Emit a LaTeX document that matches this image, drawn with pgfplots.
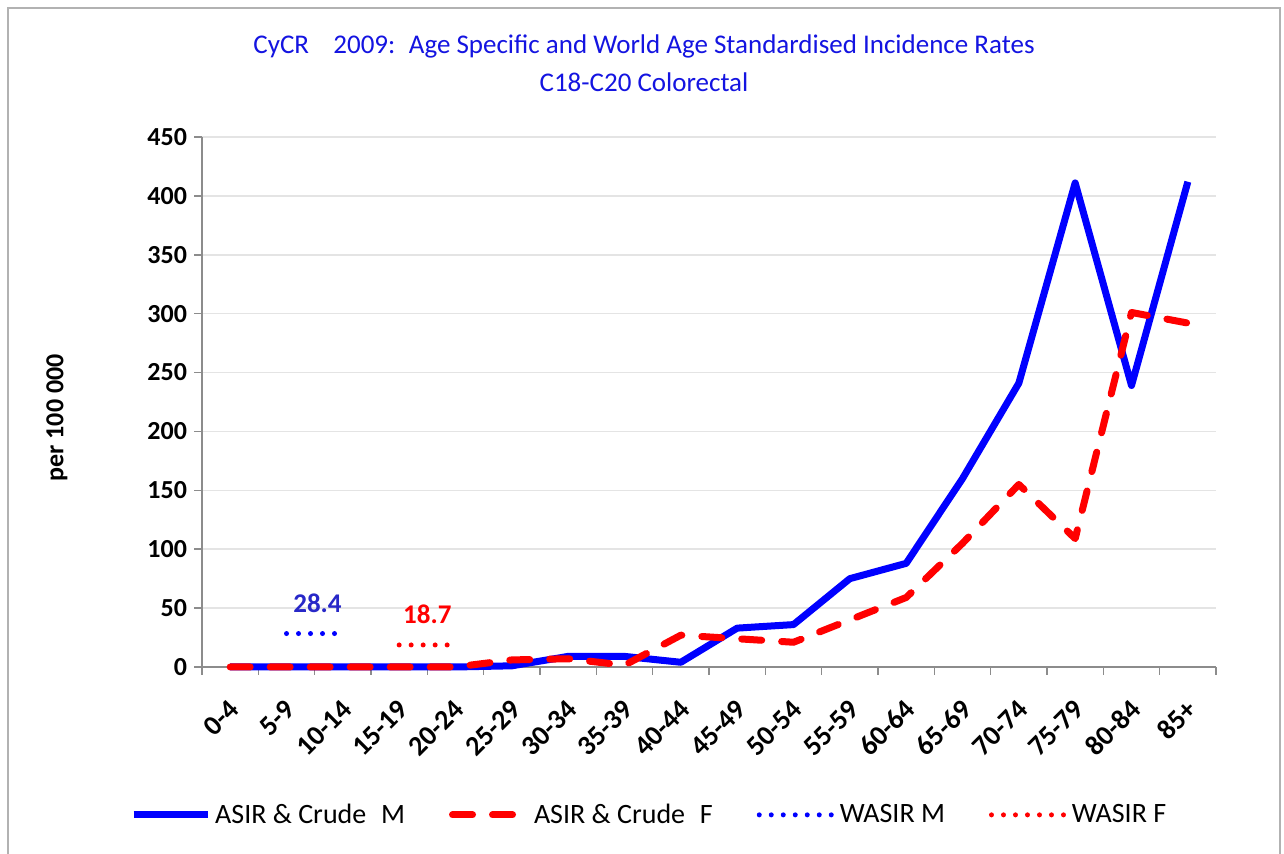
\documentclass[border=0pt]{standalone}
\usepackage{fontspec}
\setmainfont{Carlito}
\usepackage{pgfplots}
\pgfplotsset{compat=1.18}
\definecolor{mblue}{RGB}{0,0,255}
\definecolor{mred}{RGB}{255,0,0}
\definecolor{gridgray}{RGB}{228,228,228}
\definecolor{axgray}{RGB}{140,140,140}
\definecolor{titleblue}{RGB}{20,20,225}
\definecolor{lblblue}{RGB}{40,40,200}
\begin{document}
\begin{tikzpicture}
\useasboundingbox (0,0) rectangle (642pt,427pt);
\fill[white] (0,0) rectangle (642pt,427pt);
\draw[gray!60, line width=1pt] (4pt,-2pt) -- (4pt,423pt) -- (640pt,423pt) -- (640pt,-2pt);
\node[font=\fontsize{13.5}{15}\selectfont, text=titleblue] at (322pt,404pt) {CyCR\hspace{0.9em}2009:\hspace{0.5em}Age Specific and World Age Standardised Incidence Rates};
\node[font=\fontsize{13.5}{15}\selectfont, text=titleblue] at (322pt,386pt) {C18-C20 Colorectal};
\begin{axis}[
  at={(101pt,93.5pt)}, anchor=south west,
  scale only axis, width=507pt, height=265pt,
  xmin=-0.5, xmax=17.5, ymin=0, ymax=450,
  axis x line*=bottom, axis y line*=left,
  axis line style={axgray, line width=0.8pt, -},
  xtick={0,...,17},
  xticklabels={0-4,5-9,10-14,15-19,20-24,25-29,30-34,35-39,40-44,45-49,50-54,55-59,60-64,65-69,70-74,75-79,80-84,85+},
  x tick label style={rotate=45, anchor=east, font=\bfseries\fontsize{14}{14}\selectfont, inner sep=1pt, xshift=-8pt, yshift=-12pt},
  major x tick style={draw=none},
  minor xtick={-0.5,0.5,...,17.5},
  minor x tick style={axgray, line width=0.8pt},
  ytick={0,50,...,450},
  y tick label style={font=\bfseries\fontsize{13}{13}\selectfont},
  /pgf/number format/assume math mode=true,
  major y tick style={axgray, line width=0.8pt},
  tick align=outside,
  major tick length=4pt, minor tick length=4pt,
  ymajorgrids, grid style={gridgray, line width=0.8pt},
  ylabel={per 100 000},
  ylabel style={font=\bfseries\fontsize{13}{13}\selectfont, at={(axis description cs:-0.143,0.47)}, anchor=center},
  legend style={at={(0.442,-0.279)}, anchor=center, draw=none, fill=none, legend columns=4, font=\fontsize{14}{14}\selectfont, /tikz/every even column/.append style={column sep=20pt}},
  legend image code/.code={\draw[#1] (0pt,0pt) -- (37pt,0pt);},
  clip=false,
]
\addplot[mblue, line width=3.5pt, line join=round] coordinates {
(0,0) (1,0) (2,0) (3,0) (4,0) (5,1) (6,9) (7,9) (8,4) (9,33) (10,36) (11,75) (12,88) (13,160) (14,241) (15,411) (16,239) (17,412)};
\addlegendentry{ASIR \& Crude\hspace{0.3em} M}
\addplot[mred, line width=3.5pt, line cap=round, line join=round, dash pattern=on 10pt off 10pt] coordinates {
(0,0) (1,0) (2,0) (3,0) (4,0) (5,6) (6,7) (7,1.5) (8,27) (9,24) (10,21) (11,40) (12,59) (13,105) (14,155) (15,109) (16,301) (17,292)};
\addlegendentry{ASIR \& Crude\hspace{0.3em} F}
\addplot[mblue, line width=2.5pt, line cap=round, dash pattern=on 0pt off 6pt] coordinates {(1,28.4) (2,28.4)};
\addlegendentry{WASIR M}
\addplot[mred, line width=2.5pt, line cap=round, dash pattern=on 0pt off 6pt] coordinates {(3,18.7) (4,18.7)};
\addlegendentry{WASIR F}
\node[font=\bfseries\fontsize{13.5}{12}\selectfont, text=lblblue] at (axis cs:1.55,28.4) [yshift=15pt] {28.4};
\node[font=\bfseries\fontsize{13.5}{12}\selectfont, text=mred] at (axis cs:3.5,18.7) [yshift=15.5pt] {18.7};
\end{axis}
\end{tikzpicture}
\end{document}
